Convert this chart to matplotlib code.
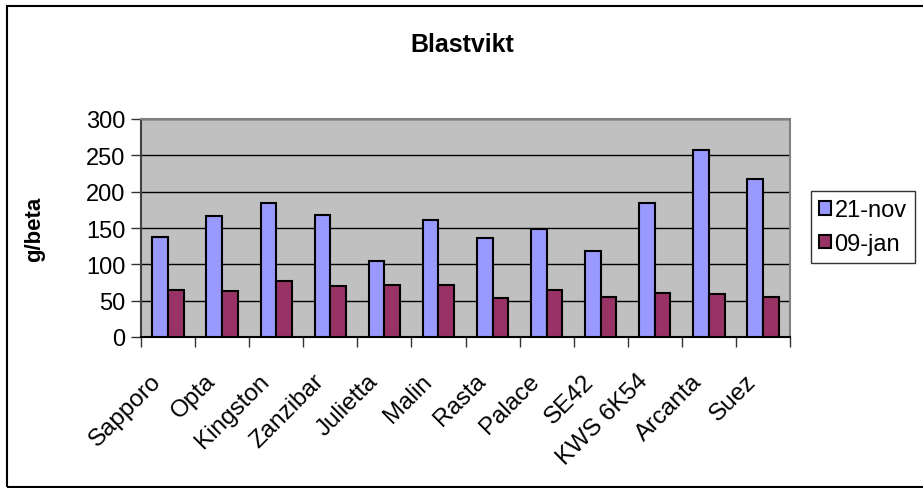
import matplotlib
matplotlib.use("Agg")
import matplotlib.pyplot as plt
import matplotlib.transforms as mtransforms
import numpy as np
from matplotlib.patches import Rectangle

categories = ["Sapporo", "Opta", "Kingston", "Zanzibar", "Julietta", "Malin",
              "Rasta", "Palace", "SE42", "KWS 6K54", "Arcanta", "Suez"]
nov21 = [137, 166, 184, 168, 104, 161, 136, 149, 118, 184, 257, 217]
jan09 = [64, 63, 77, 70, 71, 71, 54, 65, 55, 60, 59, 55]
series_names = ["21-nov", "09-jan"]
yticks = [0, 50, 100, 150, 200, 250, 300]

plt.rcParams['font.family'] = ['Liberation Sans', 'DejaVu Sans']

W, H = 923, 489
fig = plt.figure(figsize=(W / 100, H / 100), dpi=100)
fig.patch.set_facecolor('white')

# outer chart border (right edge falls just outside the image)
fig.add_artist(Rectangle((7 / W, 1.5 / H), (926 - 7) / W, (482 - 1.5) / H,
                         transform=fig.transFigure, fill=False,
                         edgecolor='black', linewidth=1.5, clip_on=False))

left, right, top, bottom = 141, 790, 120, 338
ax = fig.add_axes([left / W, 1 - bottom / H, (right - left) / W, (bottom - top) / H])
ax.set_facecolor('#C0C0C0')

x = np.arange(len(categories))
bw = 0.29
ax.bar(x - bw / 2, nov21, bw, color='#9999FF', edgecolor='black', linewidth=1.5,
       label=series_names[0], zorder=3)
ax.bar(x + bw / 2, jan09, bw, color='#993366', edgecolor='black', linewidth=1.5,
       label=series_names[1], zorder=3)

ax.set_xlim(-0.5, len(categories) - 0.5)
ax.set_ylim(0, 300)
ax.set_yticks(yticks)
ax.set_yticklabels([str(v) for v in yticks], fontsize=17)
ax.yaxis.grid(True, color='black', linewidth=1.0, zorder=1)
ax.set_axisbelow(True)

ax.set_xticks(np.arange(len(categories) + 1) - 0.5)
ax.set_xticklabels([])
ax.set_xticks(x, minor=True)
ax.set_xticklabels(categories, minor=True, rotation=45, ha='right',
                   rotation_mode='anchor', fontsize=17.5)
ax.tick_params(axis='x', which='minor', length=0, pad=12)
ax.tick_params(axis='x', which='major', length=7, width=1, direction='out', color='#333333')
ax.tick_params(axis='y', length=7, width=1, direction='out', pad=4, color='#333333')

offset = mtransforms.ScaledTranslation(-18 / 100, -16 / 100, fig.dpi_scale_trans)
for lbl in ax.get_xticklabels(minor=True):
    lbl.set_transform(lbl.get_transform() + offset)

for s in ['top', 'right']:
    ax.spines[s].set_color('#808080')
    ax.spines[s].set_linewidth(1.5)
ax.spines['left'].set_color('#404040')
ax.spines['left'].set_linewidth(1.5)
ax.spines['bottom'].set_color('black')
ax.spines['bottom'].set_linewidth(1.5)

fig.text(462 / W, 1 - 45 / H, "Blastvikt", ha='center', va='center',
         fontsize=18, fontweight='bold')
fig.text(35 / W, 1 - 229 / H, "g/beta", ha='center', va='center', rotation=90,
         fontsize=16, fontweight='bold')

leg = ax.legend(loc='upper left', bbox_to_anchor=(811 / W, 1 - 192 / H),
                bbox_transform=fig.transFigure, fontsize=17, frameon=True,
                fancybox=False, edgecolor='black', handlelength=0.5,
                handleheight=0.5, handletextpad=0.15, borderpad=0.35,
                labelspacing=0.5, borderaxespad=0)
leg.get_frame().set_linewidth(1.0)

fig.savefig("out.png", dpi=100)
